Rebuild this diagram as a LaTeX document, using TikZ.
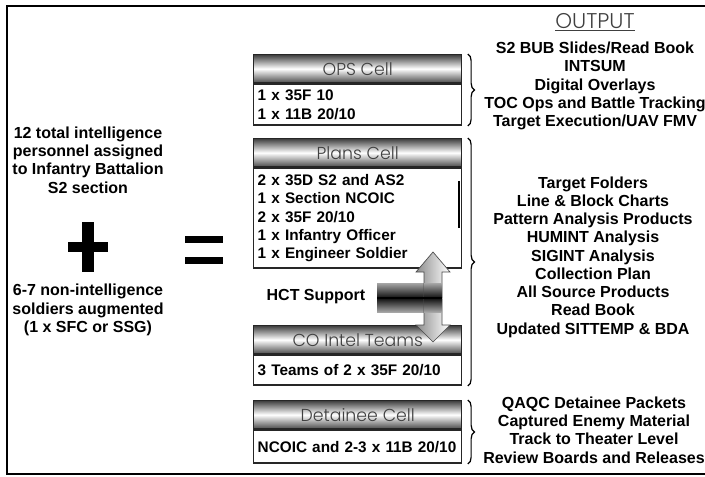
\documentclass[tikz,border=0pt]{standalone}
\usepackage{fontspec}
\setmainfont{Liberation Sans}
\newfontfamily\barfont{Poppins}[UprightFont=* Light]
\usetikzlibrary{positioning,calc,decorations.pathreplacing}

\begin{document}
\begin{tikzpicture}[x=0.75pt,y=-0.75pt,
  cellbar/.style={draw=black!85, line width=1.1pt, minimum width=156pt, minimum height=21pt,
              inner sep=0pt, anchor=north west, top color=black!75, bottom color=black!70,
              middle color=white, text=black!75, font=\barfont\fontsize{13}{14}\selectfont},
  cellbody/.style={draw=black!85, line width=1.1pt, minimum width=156pt, text width=150pt,
               inner sep=2pt, align=left, font=\bfseries\fontsize{11.5}{13.7}\selectfont},
  outtext/.style={align=center, font=\bfseries\fontsize{12}{13.7}\selectfont},
  curly/.style={decorate, decoration={brace, amplitude=5pt}, line width=0.9pt}]
\useasboundingbox (0,0) rectangle (705,477);

% frame, open on the right
\draw[line width=1.6pt] (705,6) -- (7,6) -- (7,474) -- (705,474);

% left side: personnel + augmentation = cells
\node[outtext] (intel) at (88,160) {12 total intelligence\\personnel assigned\\to Infantry Battalion\\S2 section};
\node[outtext] (aug) at (88,310) {6-7 non-intelligence\\soldiers augmented\\(1 x SFC or SSG)};
\fill (68,242) rectangle (108,252); % plus
\fill (82,222) rectangle (94,272);
\fill (185,236) rectangle (223,243); % equals
\fill (185,257) rectangle (223,264);

% the four cells
\node[cellbar] (opsbar) at (253,54) {OPS Cell};
\node[cellbody, below=0pt of opsbar, minimum height=30.75pt] (ops) {1 x 35F 10\\1 x 11B 20/10};

\node[cellbar] (plansbar) at (253,138) {Plans Cell};
\node[cellbody, below=0pt of plansbar, minimum height=75pt] (plans)
  {2 x 35D S2 and AS2\\1 x Section NCOIC\\2 x 35F 20/10\\1 x Infantry Officer\\1 x Engineer Soldier};
\draw[line width=2.2pt] (459,181) -- (459,228);

\node[cellbar] (cobar) at (253,325) {CO Intel Teams};
\node[cellbody, below=0pt of cobar, minimum height=22.5pt] (co) {3 Teams of 2 x 35F 20/10};

\node[cellbar] (detbar) at (253,400) {Detainee Cell};
\node[cellbody, below=0pt of detbar, minimum height=24.75pt] (det) {NCOIC and 2-3 x 11B 20/10};

% HCT support arrow
\node[outtext, anchor=east] (hct) at (370,297) {HCT Support};
\shade[top color=black!35, bottom color=black!90] (377,283) rectangle (430,297);
\shade[top color=black!90, bottom color=black!35] (377,299) rectangle (430,312);
\shade[draw=black!70, line width=0.5pt, left color=black!45, right color=white]
  (433,252) -- (450,272) -- (442,272) -- (442,325) -- (450,325) -- (433,342)
  -- (416,325) -- (424,325) -- (424,272) -- (416,272) -- cycle;
\shade[top color=black!35, bottom color=black!90] (424,283) rectangle (442,297);
\shade[top color=black!90, bottom color=black!35] (424,299) rectangle (442,312);
\draw[line width=1.5pt] (377,298) -- (442,298);

% outputs
\node[text=black!75, font=\barfont\fontsize{16}{18}\selectfont] (outhead) at (595,22) {\underline{OUTPUT}};
\node[outtext] (opsout) at (595,86) {S2 BUB Slides/Read Book\\INTSUM\\Digital Overlays\\TOC Ops and Battle Tracking\\Target Execution/UAV FMV};
\node[outtext] (plansout) at (593,257) {Target Folders\\Line \& Block Charts\\Pattern Analysis Products\\HUMINT Analysis\\SIGINT Analysis\\Collection Plan\\All Source Products\\Read Book\\Updated SITTEMP \& BDA};
\node[outtext] (detout) at (594,430) {QAQC Detainee Packets\\Captured Enemy Material\\Track to Theater Level\\Review Boards and Releases};

\draw[curly] ([xshift=4pt]opsbar.north east) -- ([xshift=4pt]ops.south east);
\draw[curly] ([xshift=4pt]plansbar.north east) -- ([xshift=4pt]co.south east);
\draw[curly] ([xshift=4pt]detbar.north east) -- ([xshift=4pt]det.south east);
\end{tikzpicture}
\end{document}
